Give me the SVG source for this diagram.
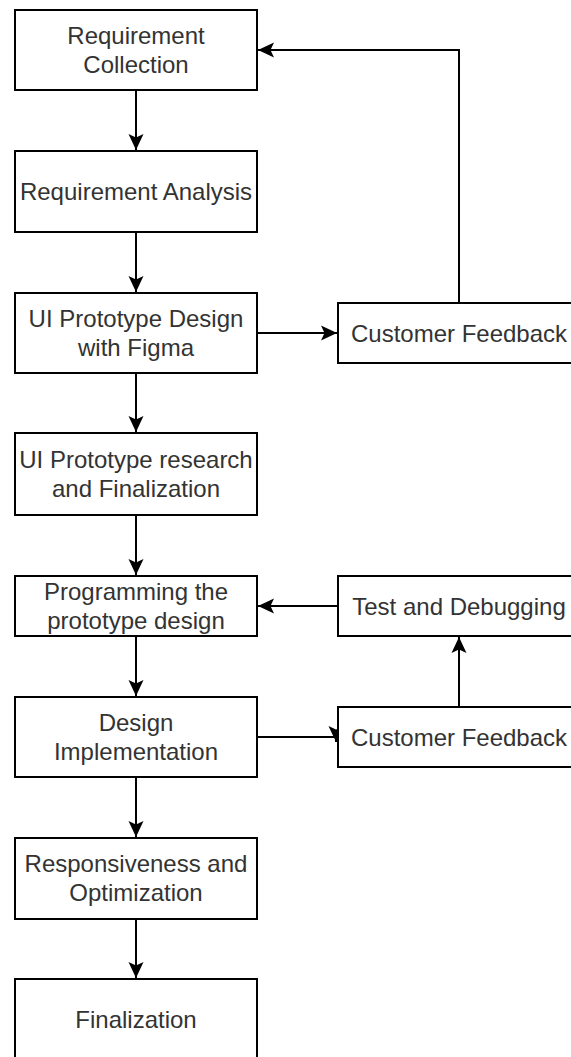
<svg xmlns="http://www.w3.org/2000/svg" width="571" height="1057" viewBox="0 0 571 1057">
<style>
.box{fill:#fff;stroke:#000;stroke-width:2}
.t{font-family:"Liberation Sans",Arial,sans-serif;font-size:24px;fill:#333;text-anchor:middle}
.c{fill:none;stroke:#000;stroke-width:2}
</style>
<defs>
<marker id="ah" markerUnits="userSpaceOnUse" markerWidth="18" markerHeight="18" viewBox="0 0 18 18" refX="17" refY="9" orient="auto">
<path d="M1,1.5 L17,9 L1,16.5 L4.5,9 Z" fill="#000"/>
</marker>
</defs>
<rect width="571" height="1057" fill="#fff"/>
<g id="connectors">
<path class="c" d="M136,90 V150" marker-end="url(#ah)"/>
<path class="c" d="M136,232 V292" marker-end="url(#ah)"/>
<path class="c" d="M136,373 V432" marker-end="url(#ah)"/>
<path class="c" d="M136,515 V575" marker-end="url(#ah)"/>
<path class="c" d="M136,636 V696" marker-end="url(#ah)"/>
<path class="c" d="M136,777 V837" marker-end="url(#ah)"/>
<path class="c" d="M136,919 V978" marker-end="url(#ah)"/>
<path class="c" d="M257,333 H337" marker-end="url(#ah)"/>
<path class="c" d="M459,303 V50 H258" marker-end="url(#ah)"/>
<path class="c" d="M338,606 H258" marker-end="url(#ah)"/>
<path class="c" d="M459,707 V637" marker-end="url(#ah)"/>
<path class="c" d="M257,737 H336 V742" marker-end="url(#ah)"/>
</g>
<g id="n1"><rect class="box" x="15" y="10" width="242" height="80"/><text class="t" x="136" y="44">Requirement</text><text class="t" x="136" y="73">Collection</text></g>
<g id="n2"><rect class="box" x="15" y="151" width="242" height="81"/><text class="t" x="136" y="200">Requirement Analysis</text></g>
<g id="n3"><rect class="box" x="15" y="293" width="242" height="80"/><text class="t" x="136" y="327">UI Prototype Design</text><text class="t" x="136" y="356">with Figma</text></g>
<g id="n4"><rect class="box" x="15" y="433" width="242" height="82"/><text class="t" x="136" y="468">UI Prototype research</text><text class="t" x="136" y="497">and Finalization</text></g>
<g id="n5"><rect class="box" x="15" y="576" width="242" height="60"/><text class="t" x="136" y="600">Programming the</text><text class="t" x="136" y="629">prototype design</text></g>
<g id="n6"><rect class="box" x="15" y="697" width="242" height="80"/><text class="t" x="136" y="731">Design</text><text class="t" x="136" y="760">Implementation</text></g>
<g id="n7"><rect class="box" x="15" y="838" width="242" height="81"/><text class="t" x="136" y="872">Responsiveness and</text><text class="t" x="136" y="901">Optimization</text></g>
<g id="n8"><rect class="box" x="15" y="979" width="242" height="82"/><text class="t" x="136" y="1028">Finalization</text></g>
<g id="n9"><rect class="box" x="338" y="303" width="242" height="60"/><text class="t" x="459" y="342">Customer Feedback</text></g>
<g id="n10"><rect class="box" x="338" y="576" width="242" height="60"/><text class="t" x="459" y="615">Test and Debugging</text></g>
<g id="n11"><rect class="box" x="338" y="707" width="242" height="60"/><text class="t" x="459" y="746">Customer Feedback</text></g>
</svg>
